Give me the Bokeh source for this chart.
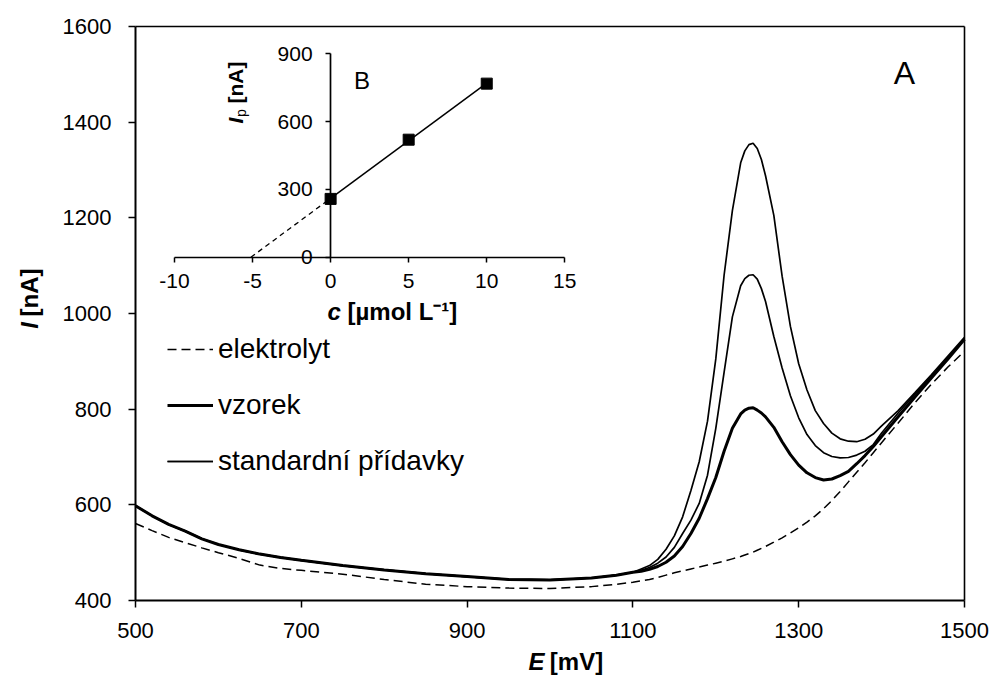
from math import pi
import numpy as np
from bokeh.plotting import figure
from bokeh.models import (Range1d, LinearAxis, FixedTicker, Label, Legend,
                          LegendItem)
from bokeh.embed import file_html
from bokeh.resources import INLINE

# ---------------- data ----------------
E_mV = [500, 520, 540, 560, 580, 600, 625, 650, 675, 700, 750, 800, 850, 900,
        950, 1000, 1050, 1080, 1100, 1110, 1120, 1130, 1140, 1150, 1160, 1170,
        1180, 1190, 1200, 1210, 1220, 1230, 1235, 1240, 1245, 1250, 1255, 1260,
        1270, 1280, 1290, 1300, 1310, 1320, 1330, 1340, 1350, 1360, 1370, 1380,
        1390, 1400, 1420, 1440, 1460, 1480, 1500]

elektrolyt_nA = [561, 546, 532, 521, 510, 500, 488, 474, 467, 463, 455, 444,
                 434, 429, 426, 425, 429, 434, 438, 441, 444, 448, 453, 458,
                 462, 466, 470, 474, 478, 482, 487, 492, 495, 498, 501, 505,
                 509, 513, 522, 531, 541, 552, 564, 577, 592, 609, 628, 648,
                 668, 688, 709, 730, 771, 813, 852, 888, 921]

vzorek_nA = [598, 577, 559, 545, 529, 517, 506, 497, 490, 484, 473, 464, 456,
             450, 444, 443, 447, 453, 459, 461, 465, 471, 480, 493, 513, 540,
             572, 613, 657, 712, 760, 790, 798, 802, 803, 798, 792, 784, 762,
             732, 705, 683, 667, 657, 652, 654, 661, 670, 686, 703, 722, 743,
             784, 825, 865, 905, 946]

pridavek1_nA = [598, 577, 559, 545, 529, 517, 506, 497, 490, 484, 473, 464,
                456, 450, 444, 443, 447, 453, 459, 463, 469, 478, 491, 511,
                540, 568, 603, 662, 760, 877, 993, 1058, 1073, 1080, 1081,
                1072, 1052, 1025, 952, 886, 828, 782, 747, 724, 709, 701, 698,
                699, 704, 712, 726, 750, 792, 831, 870, 908, 947]

pridavek2_nA = [598, 577, 559, 545, 529, 517, 506, 497, 490, 484, 473, 464,
                456, 450, 444, 443, 447, 453, 459, 466, 473, 486, 507, 535,
                575, 630, 690, 775, 905, 1080, 1215, 1315, 1340, 1353, 1356,
                1345, 1322, 1288, 1205, 1078, 973, 895, 840, 797, 770, 750,
                738, 733, 732, 737, 748, 765, 797, 834, 872, 911, 950]

E_ticks = [500, 700, 900, 1100, 1300, 1500]
I_ticks = [400, 600, 800, 1000, 1200, 1400, 1600]

# inset (B): standard additions
c_umol = [0, 5, 10]
Ip_nA = [258, 520, 768]
c_ticks = [-10, -5, 0, 5, 10, 15]
Ip_ticks = [0, 300, 600, 900]

FONT = "Liberation Sans"
BLACK = "#000000"

# ---------------- layout (pixels of the 995x682 picture) ----------------
W, H = 995, 682
BL, BT, BR, BB = 135, 26, 964, 600        # plot box: left, top, right, bottom
E_MIN, E_MAX, I_MIN, I_MAX = 500, 1500, 400, 1600

kx = (E_MAX - E_MIN) / (BR - BL)
ky = (I_MAX - I_MIN) / (BB - BT)
x0 = E_MIN - BL * kx
y0 = I_MIN - (H - BB) * ky

# the frame spans the whole canvas; the plot box is drawn with axes at fixed
# locations, so that titles outside the box are not clipped
p = figure(frame_width=W, frame_height=H, min_border=0,
           x_range=Range1d(x0, x0 + W * kx), y_range=Range1d(y0, y0 + H * ky),
           x_axis_location=None, y_axis_location=None,
           output_backend="svg", toolbar_location=None)
p.grid.visible = False
p.outline_line_color = None
p.background_fill_color = "white"
p.border_fill_color = "white"


def main_pt(px, py):
    return (x0 + px * kx, y0 + (H - py) * ky)


def style_axis(ax, tick_out, font_size, standoff, width):
    ax.axis_line_color = BLACK
    ax.axis_line_width = width
    ax.major_tick_line_color = BLACK
    ax.major_tick_line_width = 1.5
    ax.major_tick_out = tick_out
    ax.major_tick_in = 0
    ax.minor_tick_line_color = None
    ax.major_label_text_font = FONT
    ax.major_label_text_font_size = font_size
    ax.major_label_text_color = BLACK
    ax.major_label_standoff = standoff


x_axis = LinearAxis(fixed_location=I_MIN, bounds=(E_MIN, E_MAX),
                    ticker=FixedTicker(ticks=E_ticks))
y_axis = LinearAxis(fixed_location=E_MIN, bounds=(I_MIN, I_MAX),
                    ticker=FixedTicker(ticks=I_ticks))
style_axis(x_axis, 7, "22px", 15, 2)
style_axis(y_axis, 7, "22px", 17, 2)
p.add_layout(x_axis, "below")
p.add_layout(y_axis, "left")
# top and right edges of the box
top_axis = LinearAxis(fixed_location=I_MAX, bounds=(E_MIN, E_MAX),
                      ticker=FixedTicker(ticks=[]),
                      major_label_text_font_size="0px")
right_axis = LinearAxis(fixed_location=E_MAX, bounds=(I_MIN, I_MAX),
                        ticker=FixedTicker(ticks=[]),
                        major_label_text_font_size="0px")
for ax in (top_axis, right_axis):
    style_axis(ax, 0, "0px", 0, 1.6)
p.add_layout(top_axis, "above")
p.add_layout(right_axis, "right")

# ---------------- curves ----------------
r_el = p.line(E_mV, elektrolyt_nA, line_color=BLACK, line_width=1.5,
              line_dash="9 5")
r_vz = p.line(E_mV, vzorek_nA, line_color=BLACK, line_width=3)
r_p1 = p.line(E_mV, pridavek1_nA, line_color=BLACK, line_width=1.7)
r_p2 = p.line(E_mV, pridavek2_nA, line_color=BLACK, line_width=1.7)

legend = Legend(items=[LegendItem(label="elektrolyt", renderers=[r_el]),
                       LegendItem(label="vzorek", renderers=[r_vz]),
                       LegendItem(label="standardní přídavky", renderers=[r_p1, r_p2])],
                location=(167, H - BB + 122), orientation="vertical",
                label_text_font=FONT, label_text_font_size="28px",
                label_text_color=BLACK, glyph_width=46, glyph_height=34,
                label_height=34, spacing=22, padding=0, margin=0,
                label_standoff=5, border_line_color=None,
                background_fill_alpha=0)
p.add_layout(legend)

# ---------------- inset B ----------------
c_per_px = 25 / (564.3 - 174.0)
ip_per_px = 900 / (256.7 - 53.3)
cx0 = -10 - 174.0 * c_per_px
iy0 = 0 - (H - 256.7) * ip_per_px
p.extra_x_ranges = {"ix": Range1d(cx0, cx0 + W * c_per_px)}
p.extra_y_ranges = {"iy": Range1d(iy0, iy0 + H * ip_per_px)}

ax_iy = LinearAxis(x_range_name="ix", y_range_name="iy", fixed_location=0,
                   bounds=(0, 900), ticker=FixedTicker(ticks=Ip_ticks))
ax_ix = LinearAxis(x_range_name="ix", y_range_name="iy", fixed_location=0,
                   bounds=(-10, 15), ticker=FixedTicker(ticks=c_ticks),
                   major_label_overrides={-10: "-10", -5: "-5"})
style_axis(ax_iy, 5, "21px", 13, 1.7)
style_axis(ax_ix, 5, "21px", 12, 1.7)
p.add_layout(ax_iy, "left")
p.add_layout(ax_ix, "below")

slope, intercept = np.polyfit(c_umol, Ip_nA, 1)
c_zero = -intercept / slope
p.line([c_zero, 0], [0, intercept], x_range_name="ix", y_range_name="iy",
       line_color=BLACK, line_width=1.3, line_dash="5 4")
p.line([0, max(c_umol)], [intercept, intercept + slope * max(c_umol)],
       x_range_name="ix", y_range_name="iy", line_color=BLACK, line_width=1.5)
p.scatter(c_umol, Ip_nA, x_range_name="ix", y_range_name="iy", marker="square",
          size=11, fill_color=BLACK, line_color=BLACK)

# ---------------- texts ----------------


def add_text(px, py, text, size, style="normal", align="left", angle=0.0,
             baseline="middle"):
    x, y = main_pt(px, py)
    p.add_layout(Label(x=x, y=y, text=text, text_font=FONT,
                       text_font_size=size, text_font_style=style,
                       text_color=BLACK, text_align=align,
                       text_baseline=baseline, angle=angle))


add_text(904, 72, "A", "32px", align="center")
add_text(361.5, 80, "B", "24px", align="center")

# main x title: E [mV]
add_text(536, 661, "E", "24px", "bold italic", align="center")
add_text(576, 661, "[mV]", "24px", "bold", align="center")
# main y title: I [nA]
add_text(29, 325, "I", "24px", "bold italic", align="center", angle=pi / 2)
add_text(29, 292, "[nA]", "24px", "bold", align="center", angle=pi / 2)

# inset x title: c [µmol L⁻¹]
add_text(327, 311, "c", "24px", "bold italic")
add_text(347, 311, "[µmol L⁻¹]", "24px", "bold")
# inset y title: Ip [nA]
add_text(235, 123, "I", "21px", "bold italic", angle=pi / 2)
add_text(240, 116.5, "p", "14px", "normal", angle=pi / 2)
add_text(235, 103, "[nA]", "21px", "bold", angle=pi / 2)

open("out.html", "w").write(file_html(p, INLINE))
